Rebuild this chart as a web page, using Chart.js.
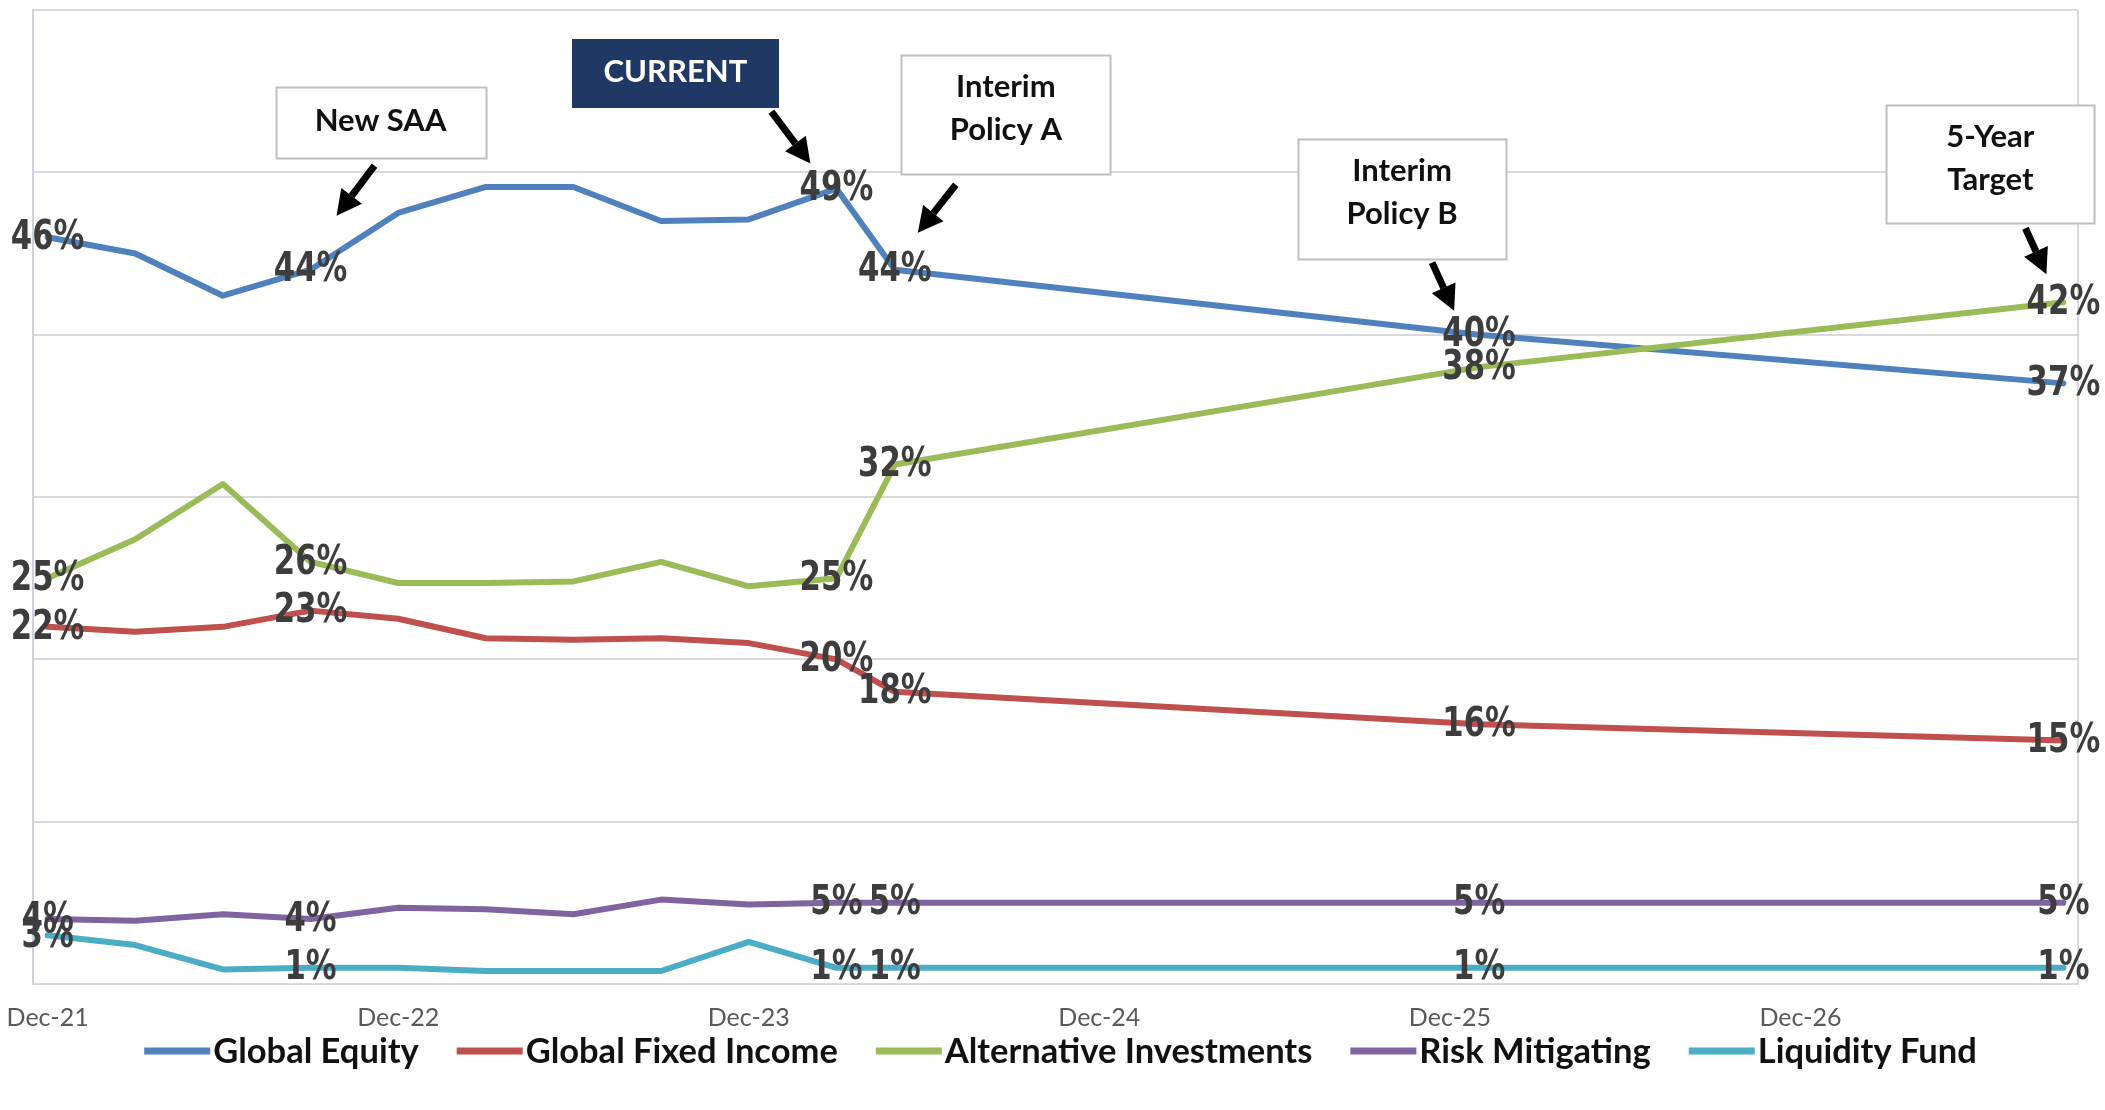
<!DOCTYPE html>
<html>
<head>
<meta charset="utf-8">
<title>Asset Allocation Glide Path</title>
<script src="https://cdn.jsdelivr.net/npm/chart.js@4.4.1/dist/chart.umd.min.js"></script>
<style>
  html, body { margin: 0; padding: 0; background: #ffffff; overflow: hidden; }
  #wrap { width: 2105px; height: 1110px; }
</style>
</head>
<body>
<div id="wrap"><canvas id="glide" width="2105" height="1110"></canvas></div>
<script>
// Snapshot dates: quarter-ends to the current date, then the policy milestones
const periods = ['Dec-21', 'Mar-22', 'Jun-22', 'Sep-22', 'Dec-22', 'Mar-23', 'Jun-23',
                 'Sep-23', 'Dec-23', 'Mar-24', 'May-24', 'Jan-26', 'Sep-27'];

// Allocation weights, % of total fund
const globalEquity           = [46, 45.0, 42.4, 44, 47.5, 49.1, 49.1, 47.0, 47.1, 49, 44, 40, 37];
const globalFixedIncome      = [22, 21.7, 22.0, 23, 22.5, 21.3, 21.2, 21.3, 21.0, 20, 18, 16, 15];
const alternativeInvestments = [25, 27.4, 30.8, 26, 24.7, 24.7, 24.8, 26.0, 24.5, 25, 32, 38, 42];
const riskMitigating         = [4, 3.9, 4.3, 4, 4.7, 4.6, 4.3, 5.2, 4.9, 5, 5, 5, 5];
const liquidityFund          = [3, 2.4, 0.9, 1, 1.0, 0.8, 0.8, 0.8, 2.6, 1, 1, 1, 1];

const seriesNames  = ['Global Equity', 'Global Fixed Income', 'Alternative Investments', 'Risk Mitigating', 'Liquidity Fund'];
const seriesValues = [globalEquity, globalFixedIncome, alternativeInvestments, riskMitigating, liquidityFund];
const seriesColors = ['#4F81BD', '#C0504D', '#9BBB59', '#8064A2', '#4BACC6'];

// Dates whose points carry a value label
const labelledPeriods = ['Dec-21', 'Sep-22', 'Mar-24', 'May-24', 'Jan-26', 'Sep-27'];

// Horizontal axis tick labels
const tickLabels = ['Dec-21', 'Dec-22', 'Dec-23', 'Dec-24', 'Dec-25', 'Dec-26'];

// ---- date helpers: position everything in months from the first snapshot ----
const MONTHS = ['Jan', 'Feb', 'Mar', 'Apr', 'May', 'Jun', 'Jul', 'Aug', 'Sep', 'Oct', 'Nov', 'Dec'];
function monthNumber(label) {
  const [mon, yy] = label.split('-');
  return (2000 + Number(yy)) * 12 + MONTHS.indexOf(mon);
}
const origin = monthNumber(periods[0]);
const monthsFromStart = label => monthNumber(label) - origin;

const xs = periods.map(monthsFromStart);
const tickPositions = tickLabels.map(monthsFromStart);
const labelledIdx = labelledPeriods.map(p => periods.indexOf(p));

// Milestone call-outs: anchored to a point of a series, offsets in pixels from it
const callouts = [
  { text: ['New SAA'],             series: 0, period: 'Sep-22', box: [70, -147, 210, 71],   tail: [64, -104], tip: [26, -54] },
  { text: ['CURRENT'],             series: 0, period: 'Mar-24', box: [-161, -115, 207, 69], tail: [-65, -77], tip: [-26, -25], dark: true },
  { text: ['Interim', 'Policy A'], series: 0, period: 'May-24', box: [111, -155, 209, 119], tail: [61, -85],  tip: [23, -37] },
  { text: ['Interim', 'Policy B'], series: 0, period: 'Jan-26', box: [-77, -136, 208, 120], tail: [-47, -72], tip: [-25, -24] },
  { text: ['5-Year', 'Target'],    series: 2, period: 'Sep-27', box: [-73, -138, 208, 118], tail: [-38, -74], tip: [-17, -28] }
];

// ---- plugins ----
const plotFrame = {
  id: 'plotFrame',
  beforeDatasetsDraw(chart) {
    const { ctx, chartArea: a } = chart;
    ctx.save();
    ctx.strokeStyle = '#d9d9d9';
    ctx.lineWidth = 2;
    ctx.beginPath();
    ctx.moveTo(a.right, a.top);
    ctx.lineTo(a.right, a.bottom);
    ctx.stroke();
    ctx.restore();
  }
};

// Bold, narrow percentage labels centred on the labelled points
const valueLabels = {
  id: 'valueLabels',
  afterDatasetsDraw(chart) {
    const ctx = chart.ctx;
    ctx.save();
    ctx.font = 'bold 41px "DejaVu Sans"';
    ctx.fillStyle = '#3d3d3d';
    ctx.textAlign = 'center';
    ctx.textBaseline = 'middle';
    chart.data.datasets.forEach((ds, i) => {
      const meta = chart.getDatasetMeta(i);
      labelledIdx.forEach(idx => {
        const el = meta.data[idx];
        ctx.save();
        ctx.translate(el.x, el.y + 1);
        ctx.scale(0.75, 1);
        ctx.fillText(Math.round(ds.data[idx].y) + '%', 0, 0);
        ctx.restore();
      });
    });
    ctx.restore();
  }
};

function drawArrow(ctx, x1, y1, x2, y2) {
  const ang = Math.atan2(y2 - y1, x2 - x1);
  const headLen = 25, headHalf = 13;
  const bx = x2 - headLen * Math.cos(ang);
  const by = y2 - headLen * Math.sin(ang);
  ctx.lineWidth = 7;
  ctx.lineCap = 'butt';
  ctx.beginPath();
  ctx.moveTo(x1, y1);
  ctx.lineTo(bx, by);
  ctx.stroke();
  ctx.beginPath();
  ctx.moveTo(x2, y2);
  ctx.lineTo(bx + headHalf * Math.sin(ang), by - headHalf * Math.cos(ang));
  ctx.lineTo(bx - headHalf * Math.sin(ang), by + headHalf * Math.cos(ang));
  ctx.closePath();
  ctx.fill();
}

const milestoneCallouts = {
  id: 'milestoneCallouts',
  afterDraw(chart) {
    const ctx = chart.ctx;
    ctx.save();
    callouts.forEach(c => {
      const el = chart.getDatasetMeta(c.series).data[periods.indexOf(c.period)];
      const px = el.x, py = el.y;
      const [dx, dy, w, h] = c.box;
      const left = Math.round(px + dx - w / 2), top = Math.round(py + dy - h / 2);
      ctx.fillStyle = c.dark ? '#1F3864' : '#ffffff';
      ctx.fillRect(left, top, w, h);
      if (!c.dark) {
        ctx.strokeStyle = '#bfbfbf';
        ctx.lineWidth = 2;
        ctx.strokeRect(left + 0.5, top + 0.5, w, h);
      }
      ctx.font = 'bold 31px Lato';
      ctx.fillStyle = c.dark ? '#ffffff' : '#111111';
      ctx.textAlign = 'center';
      ctx.textBaseline = 'middle';
      const lineH = 43;
      const cy = py + dy - (c.text.length > 1 ? 6 : 2);
      c.text.forEach((t, k) => {
        ctx.fillText(t, px + dx, cy + (k - (c.text.length - 1) / 2) * lineH);
      });
      ctx.fillStyle = '#000000';
      ctx.strokeStyle = '#000000';
      drawArrow(ctx, px + c.tail[0], py + c.tail[1], px + c.tip[0], py + c.tip[1]);
    });
    ctx.restore();
  }
};

const bottomLegend = {
  id: 'bottomLegend',
  afterDraw(chart) {
    const { ctx, chartArea: a } = chart;
    ctx.save();
    ctx.font = 'bold 34.5px Lato';
    ctx.textBaseline = 'middle';
    ctx.textAlign = 'left';
    const swatch = 66, gapIn = 3, gapOut = 38;
    const widths = seriesNames.map(n => ctx.measureText(n).width);
    const total = widths.reduce((s, v) => s + v, 0) + seriesNames.length * (swatch + gapIn) + (seriesNames.length - 1) * gapOut;
    let x = (a.left + a.right) / 2 - total / 2 + 5;
    const y = a.bottom + 67;
    seriesNames.forEach((name, i) => {
      ctx.fillStyle = seriesColors[i];
      ctx.fillRect(x, y - 3.5, swatch, 7);
      x += swatch + gapIn;
      ctx.fillStyle = '#111111';
      ctx.fillText(name, x, y + 1);
      x += widths[i] + gapOut;
    });
    ctx.restore();
  }
};

// ---- chart ----
Chart.defaults.font.family = 'Lato';

new Chart(document.getElementById('glide'), {
  type: 'line',
  data: {
    datasets: seriesNames.map((name, i) => ({
      label: name,
      data: xs.map((x, k) => ({ x: x, y: seriesValues[i][k] })),
      borderColor: seriesColors[i],
      backgroundColor: seriesColors[i],
      borderWidth: 6,
      borderJoinStyle: 'round',
      borderCapStyle: 'round',
      pointRadius: 0,
      pointHoverRadius: 0,
      tension: 0,
      fill: false,
      clip: false,
      order: seriesNames.length - i
    }))
  },
  options: {
    responsive: false,
    animation: false,
    devicePixelRatio: 1,
    layout: { padding: { left: 0, right: 27, top: 10, bottom: 0 } },
    plugins: {
      legend: { display: false },
      tooltip: { enabled: false }
    },
    scales: {
      x: {
        type: 'linear',
        min: xs[0] - 0.5,
        max: xs[xs.length - 1] + 0.5,
        afterBuildTicks: axis => { axis.ticks = tickPositions.map(v => ({ value: v })); },
        afterFit: axis => {
          axis.height = 126;
          // tick labels may overhang the plot edges
          axis.paddingLeft = 0;
          axis.paddingRight = 0;
        },
        ticks: {
          autoSkip: false,
          maxRotation: 0,
          padding: 19,
          color: '#595959',
          font: { family: 'Lato', size: 25 },
          callback: v => tickLabels[tickPositions.indexOf(v)]
        },
        grid: { display: false, drawTicks: false },
        border: { display: true, color: '#d9d9d9', width: 2 }
      },
      y: {
        min: 0,
        max: 60,
        afterFit: axis => { axis.width = 33; axis.paddingTop = 0; axis.paddingBottom = 0; },
        ticks: { display: false, stepSize: 10 },
        grid: { color: '#d9d9d9', lineWidth: 2, drawTicks: false },
        border: { display: true, color: '#cdd3dc', width: 2 }
      }
    }
  },
  plugins: [plotFrame, valueLabels, milestoneCallouts, bottomLegend]
});
</script>
</body>
</html>
